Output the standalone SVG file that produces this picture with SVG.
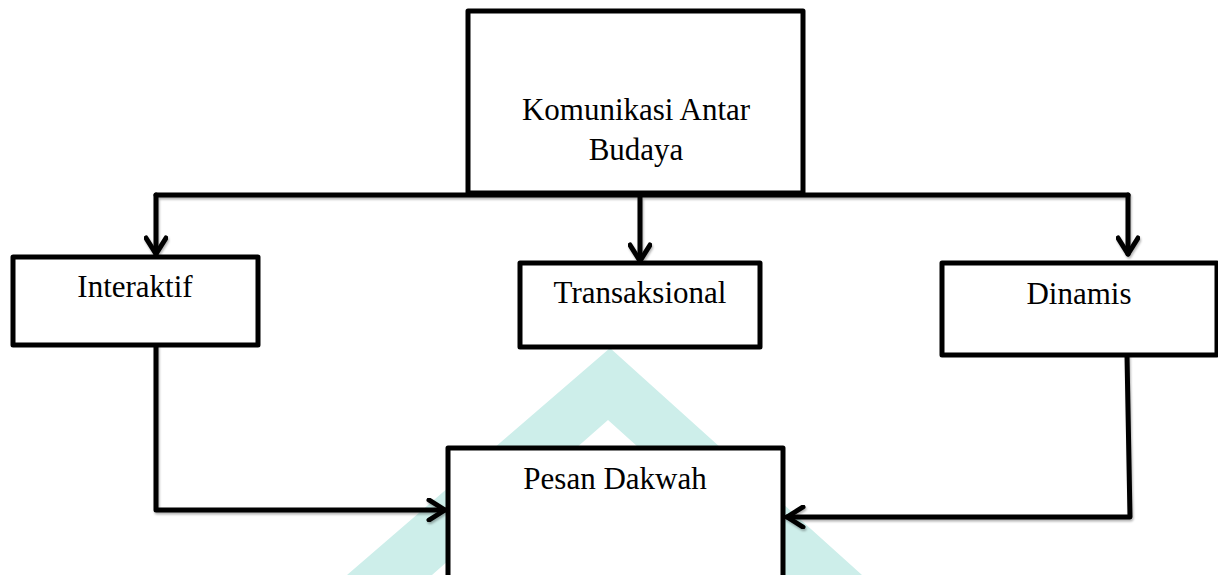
<svg xmlns="http://www.w3.org/2000/svg" width="1218" height="575" viewBox="0 0 1218 575">
  <style>
    .box { fill: #ffffff; stroke: #000000; stroke-width: 5; stroke-linejoin: round; }
    .lbl { font-family: "Liberation Serif", "Times New Roman", serif; font-size: 31px; fill: #000000; text-anchor: middle; }
    .conn { fill: none; stroke: #000000; stroke-width: 5; stroke-linejoin: round; stroke-linecap: round; }
  </style>
  <defs>
    <marker id="arr" viewBox="0 0 24 24" markerWidth="24" markerHeight="24" refX="20" refY="12" orient="auto" markerUnits="userSpaceOnUse">
      <path d="M4,2 L20,12 L4,22" fill="none" stroke="#000000" stroke-width="5" stroke-linecap="round" stroke-linejoin="round"/>
    </marker>
    <filter id="sh" x="-5%" y="-5%" width="110%" height="120%">
      <feDropShadow dx="1" dy="2" stdDeviation="1.2" flood-color="#000000" flood-opacity="0.3"/>
    </filter>
  </defs>
  <rect width="1218" height="575" fill="#ffffff"/>
  <polygon id="watermark" points="610,348 862,575 780,575 608,420 432,575 347,575" fill="#cdeeea"/>

  <g id="connectors" filter="url(#sh)">
    <path class="conn" d="M156,195 L1128,195"/>
    <path class="conn" d="M156,195 L156,254" marker-end="url(#arr)"/>
    <path class="conn" d="M640,195 L640,261" marker-end="url(#arr)"/>
    <path class="conn" d="M1128,195 L1128,254" marker-end="url(#arr)"/>
    <path class="conn" d="M156,345 L156,510 L445,510" marker-end="url(#arr)"/>
    <path class="conn" d="M1127,355 L1130,517 L787,517" marker-end="url(#arr)"/>
  </g>

  <g id="node-komunikasi">
    <rect class="box" x="468" y="11" width="335" height="182"/>
    <text class="lbl" x="636" y="120">Komunikasi Antar</text>
    <text class="lbl" x="636" y="160">Budaya</text>
  </g>
  <g id="node-interaktif">
    <rect class="box" x="13" y="257" width="245" height="88"/>
    <text class="lbl" x="135" y="297">Interaktif</text>
  </g>
  <g id="node-transaksional">
    <rect class="box" x="520" y="263" width="240" height="84"/>
    <text class="lbl" x="640" y="303">Transaksional</text>
  </g>
  <g id="node-dinamis">
    <rect class="box" x="942" y="263" width="275" height="92"/>
    <text class="lbl" x="1079" y="304">Dinamis</text>
  </g>
  <g id="node-pesan">
    <rect class="box" x="448" y="448" width="335" height="135"/>
    <text class="lbl" x="615" y="489">Pesan Dakwah</text>
  </g>
</svg>
